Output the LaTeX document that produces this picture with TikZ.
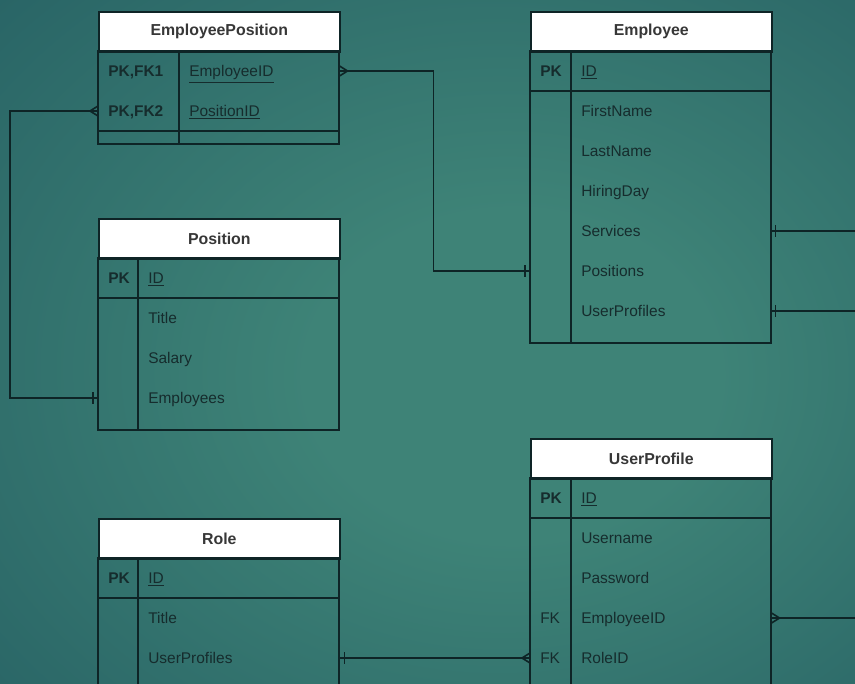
\documentclass[tikz,border=0pt]{standalone}
\usepackage{fontspec}
\setmainfont{Liberation Sans}
\definecolor{bgin}{RGB}{62,131,119}
\definecolor{bgmid}{RGB}{40,99,101}
\definecolor{bgout}{RGB}{18,54,70}
\definecolor{edge}{RGB}{14,36,38}
\definecolor{ink}{RGB}{22,44,45}
\definecolor{hdrtext}{RGB}{55,55,55}
\pgfdeclareradialshading{bgglow}{\pgfpoint{6bp}{-3bp}}{%
  color(0bp)=(bgin); color(12bp)=(bgin); color(40bp)=(bgmid); color(72bp)=(bgout)}
% key column: fixed-width box in front of the field name
\newcommand\erkey[2]{\makebox[#1][l]{#2}}
\begin{document}
\begin{tikzpicture}[x=0.75pt,y=-0.75pt,
  hdr/.style={anchor=north west, draw=edge, fill=white, line width=1.2pt,
    minimum width=180.75pt, minimum height=30pt, inner sep=0pt,
    font=\fontsize{11.9}{13}\selectfont\bfseries, text=hdrtext},
  row/.style={anchor=west, minimum width=180.75pt, minimum height=30pt,
    inner xsep=7.5pt, inner ysep=0pt, text width=165.75pt, align=left,
    text height=10pt, text depth=1.4pt,
    font=\fontsize{11.6}{13}\selectfont, text=ink},
  frame/.style={draw=edge, line width=1.2pt},
  link/.style={draw=edge, line width=1.2pt}]

\clip (0,0) rectangle (855,684);
\shade[shading=bgglow] (0,0) rectangle (855,684);

% ---------- EmployeePosition ----------
\node[hdr] (ep-h) at (98,11) {EmployeePosition};
\draw[frame] (98,51) rectangle (339,144);
\draw[frame] (179,51) -- (179,144);
\node[row] (ep-empid) at (98,71) {\erkey{60.75pt}{\bfseries PK,FK1}\underline{EmployeeID}};
\node[row] (ep-posid) at (98,111) {\erkey{60.75pt}{\bfseries PK,FK2}\underline{PositionID}};
\draw[frame] (ep-posid.south west) -- (ep-posid.south east);

% ---------- Employee ----------
\node[hdr] (emp-h) at (530,11) {Employee};
\draw[frame] (530,51) rectangle (771,343);
\draw[frame] (571,51) -- (571,343);
\node[row] (emp-id) at (530,71) {\erkey{30.75pt}{\bfseries PK}\underline{ID}};
\draw[frame] (emp-id.south west) -- (emp-id.south east);
\node[row] (emp-first) at (530,111) {\erkey{30.75pt}{}FirstName};
\node[row] (emp-last) at (530,151) {\erkey{30.75pt}{}LastName};
\node[row] (emp-hiring) at (530,191) {\erkey{30.75pt}{}HiringDay};
\node[row] (emp-services) at (530,231) {\erkey{30.75pt}{}Services};
\node[row] (emp-positions) at (530,271) {\erkey{30.75pt}{}Positions};
\node[row] (emp-userprofiles) at (530,311) {\erkey{30.75pt}{}UserProfiles};

% ---------- Position ----------
\node[hdr] (pos-h) at (98,218) {Position};
\draw[frame] (98,258) rectangle (339,430);
\draw[frame] (138,258) -- (138,430);
\node[row] (pos-id) at (98,278) {\erkey{30pt}{\bfseries PK}\underline{ID}};
\draw[frame] (pos-id.south west) -- (pos-id.south east);
\node[row] (pos-title) at (98,318) {\erkey{30pt}{}Title};
\node[row] (pos-salary) at (98,358) {\erkey{30pt}{}Salary};
\node[row] (pos-employees) at (98,398) {\erkey{30pt}{}Employees};

% ---------- Role ----------
\node[hdr] (role-h) at (98,518) {Role};
\draw[frame] (98,558) rectangle (339,700);
\draw[frame] (138,558) -- (138,700);
\node[row] (role-id) at (98,578) {\erkey{30pt}{\bfseries PK}\underline{ID}};
\draw[frame] (role-id.south west) -- (role-id.south east);
\node[row] (role-title) at (98,618) {\erkey{30pt}{}Title};
\node[row] (role-userprofiles) at (98,658) {\erkey{30pt}{}UserProfiles};

% ---------- UserProfile ----------
\node[hdr] (up-h) at (530,438) {UserProfile};
\draw[frame] (530,478) rectangle (771,700);
\draw[frame] (571,478) -- (571,700);
\node[row] (up-id) at (530,498) {\erkey{30.75pt}{\bfseries PK}\underline{ID}};
\draw[frame] (up-id.south west) -- (up-id.south east);
\node[row] (up-username) at (530,538) {\erkey{30.75pt}{}Username};
\node[row] (up-password) at (530,578) {\erkey{30.75pt}{}Password};
\node[row] (up-empid) at (530,618) {\erkey{30.75pt}{FK}EmployeeID};
\node[row] (up-roleid) at (530,658) {\erkey{30.75pt}{FK}RoleID};

% ---------- relationships ----------
% loose ends leaving the right side of the sheet
\coordinate (out-services) at (855,231);
\coordinate (out-userprofiles) at (855,311);
\coordinate (out-upemp) at (855,618);

% EmployeePosition.EmployeeID (many) -- Employee.Positions (one)
\draw[link] (ep-empid.east) -- ++(94,0) |- (emp-positions.west);
\draw[link] (ep-empid.east) ++(0,-5) -- ++(8,5) -- ++(-8,5);
\draw[link] (emp-positions.west) ++(-5,-6) -- ++(0,12);

% EmployeePosition.PositionID (many) -- Position.Employees (one)
\draw[link] (ep-posid.west) -- ++(-88,0) |- (pos-employees.west);
\draw[link] (ep-posid.west) ++(0,-5) -- ++(-8,5) -- ++(8,5);
\draw[link] (pos-employees.west) ++(-5,-6) -- ++(0,12);

% Employee.Services / Employee.UserProfiles (one)
\draw[link] (emp-services.east) -- (out-services);
\draw[link] (emp-services.east) ++(4,-6) -- ++(0,12);
\draw[link] (emp-userprofiles.east) -- (out-userprofiles);
\draw[link] (emp-userprofiles.east) ++(4,-6) -- ++(0,12);

% UserProfile.EmployeeID (many)
\draw[link] (up-empid.east) -- (out-upemp);
\draw[link] (up-empid.east) ++(0,-5) -- ++(8,5) -- ++(-8,5);

% Role.UserProfiles (one) -- UserProfile.RoleID (many)
\draw[link] (role-userprofiles.east) -- (up-roleid.west);
\draw[link] (role-userprofiles.east) ++(5,-6) -- ++(0,12);
\draw[link] (up-roleid.west) ++(0,-5) -- ++(-8,5) -- ++(8,5);
\end{tikzpicture}
\end{document}
